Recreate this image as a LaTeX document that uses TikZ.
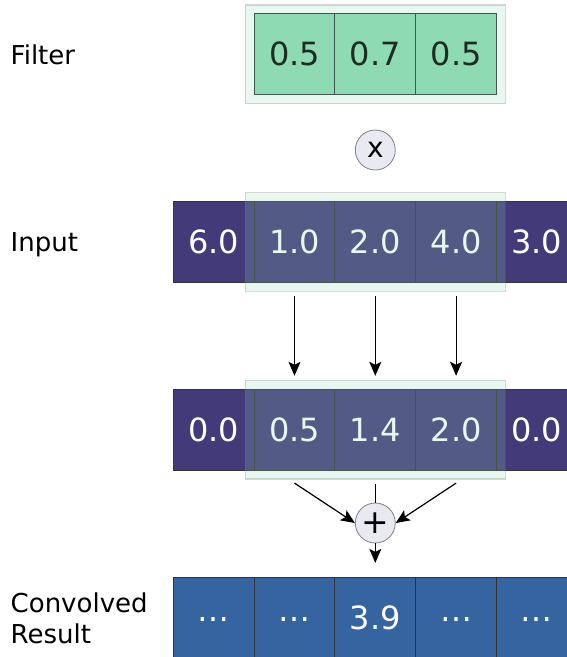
\documentclass[tikz,border=0pt]{standalone}
\usepackage{fontspec}
\setmainfont{DejaVu Sans}
\usetikzlibrary{arrows.meta,fit,calc}
\definecolor{purp}{HTML}{433A7A}
\definecolor{resblue}{HTML}{3564A0}
\definecolor{filtgreen}{HTML}{8EDBB3}
\definecolor{opfill}{HTML}{E9E9F2}
\definecolor{winborder}{HTML}{707870}
\definecolor{cellline}{HTML}{333333}
\begin{document}
\begin{tikzpicture}[x=1pt,y=-1pt,
  cell/.style={draw=cellline, line width=0.9pt, minimum width=80.8pt, minimum height=80.7pt, inner sep=0pt, font=\fontsize{32}{37}\selectfont, text height=23.3pt, text depth=0pt},
  filtcell/.style={cell, fill=filtgreen, text=black},
  incell/.style={cell, fill=purp, text=white},
  rescell/.style={cell, fill=resblue, text=white},
  winbox/.style={fill=filtgreen, fill opacity=0.2, draw=winborder, draw opacity=0.28, line width=1.2pt, inner sep=8.5pt},
  lab/.style={anchor=base west, inner sep=0pt, font=\fontsize{26}{31}\selectfont},
  opnode/.style={circle, draw=gray, fill=opfill, minimum size=40pt, inner sep=0pt, line width=0.8pt},
  arr/.style={-{Stealth[length=14pt,width=12pt,inset=3pt]}, line width=1.2pt},
  conn/.style={line width=1.2pt}
]
\useasboundingbox (0,0) rectangle (567,657);

% labels
\node[lab] (lfilter) at (10.5,64.2) {Filter};
\node[lab] (linput) at (10.5,251.7) {Input};
\node[anchor=west, inner sep=0pt, align=left, font=\fontsize{26}{31}\selectfont] (lres) at (10.5,618) {Convolved\\Result};

% filter row
\foreach \v [count=\i] in {0.5,0.7,0.5}
  \node[filtcell] (f\i) at ({213.7+80.8*\i},54.2) {\v};
\node[winbox, fit=(f1)(f3)] (fwin) {};

% multiply operator
\node[opnode, font=\fontsize{28}{31}\selectfont] (times) at (375.3,150) {x};

% input row
\foreach \v [count=\i from 0] in {6.0,1.0,2.0,4.0,3.0}
  \node[incell] (in\i) at ({213.7+80.8*\i},242) {\v};
\node[winbox, fit=(in1)(in3)] (inwin) {};

% products row
\foreach \v [count=\i from 0] in {0.0,0.5,1.4,2.0,0.0}
  \node[incell] (m\i) at ({213.7+80.8*\i},429.7) {\v};
\node[winbox, fit=(m1)(m3)] (mwin) {};

% result row
\foreach \v [count=\i from 0] in {⋯,⋯,3.9,⋯,⋯}
  \node[rescell] (r\i) at ({213.7+80.8*\i},617.7) {\v};

% plus operator
\node[opnode, font=\fontsize{33}{36}\selectfont] (plus) at (375.3,523) {+};

% connectors input -> products
\foreach \i in {1,2,3}{
  \coordinate (s\i) at ($(in\i.center |- inwin.south)+(0,4)$);
  \coordinate (e\i) at ($(m\i.center |- mwin.north)+(0,-4)$);
  \draw[arr] (s\i) -- (e\i);
}
% products -> plus
\coordinate (p1) at ($(m1.center |- mwin.south)+(0,3.5)$);
\coordinate (p2) at ($(m2.center |- mwin.south)+(0,4)$);
\coordinate (p3) at ($(m3.center |- mwin.south)+(0,3.5)$);
\draw[arr] (p1) -- (plus.west);
\draw[arr] (p3) -- (plus.east);
\draw[conn] (p2) -- (plus.north);
\coordinate (rt) at ($(r2.north)+(0,-14)$);
\draw[arr] (plus.south) -- (rt);
\end{tikzpicture}
\end{document}
